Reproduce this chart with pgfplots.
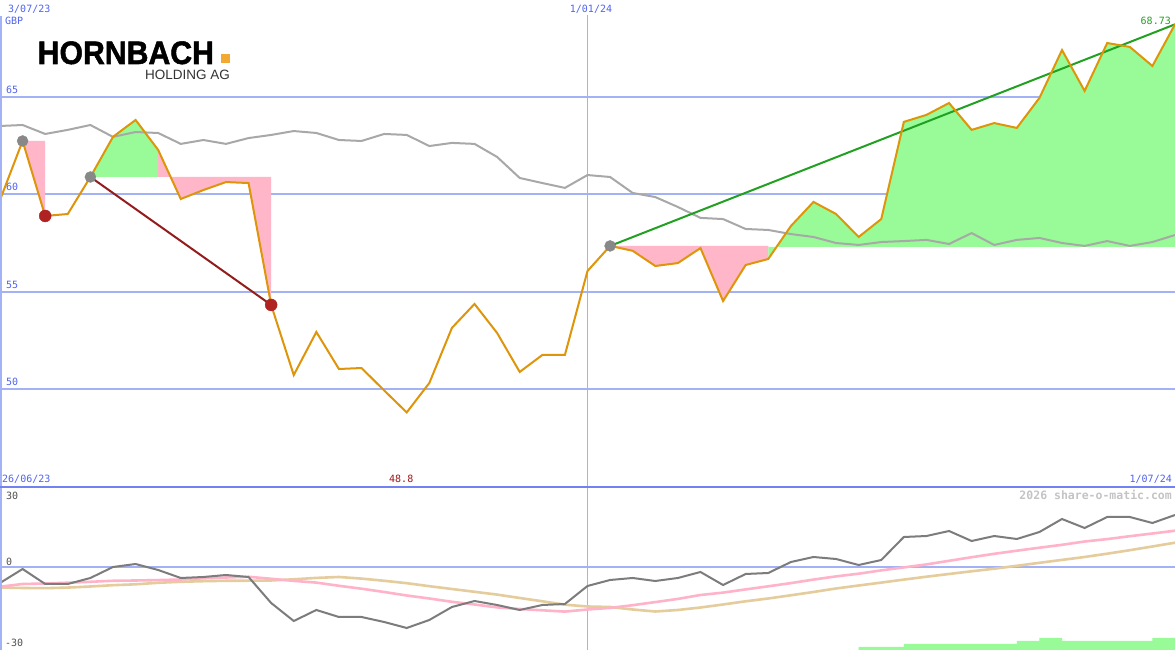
\documentclass[border=0pt]{standalone}
\usepackage{fontspec}
\usepackage{pgfplots}
\usepackage{pgfplotstable}
\pgfplotsset{compat=1.18}
\setmainfont{DejaVu Sans Mono}
\newfontfamily\labf{DejaVu Sans Mono}
\newfontfamily\logof{Liberation Sans}[BoldFeatures={FakeBold=1.6}]
\definecolor{gridc}{HTML}{A3B1F5}
\definecolor{sepc}{HTML}{7282F0}
\definecolor{labc}{HTML}{5064F0}
\definecolor{pricec}{HTML}{DE950A}
\definecolor{greyl}{HTML}{A8A8A8}
\definecolor{pinkf}{HTML}{FFB6C9}
\definecolor{greenf}{HTML}{98FB98}
\definecolor{trendr}{HTML}{951C1C}
\definecolor{trendg}{HTML}{22A022}
\definecolor{redc}{HTML}{B02222}
\definecolor{circg}{HTML}{888888}
\definecolor{momc}{HTML}{7C7C7C}
\definecolor{pinkl}{HTML}{FFB3C9}
\definecolor{tanl}{HTML}{E5CC9C}
\definecolor{logoor}{HTML}{F2A831}
\definecolor{wmc}{HTML}{C4C4C4}
\definecolor{darkr}{HTML}{A01414}
\definecolor{ticklc}{HTML}{505050}

\pgfplotstableread{
i price grey mom pink tan
0 59.71 63.51 -6.00 -7.39 -7.69
1 62.74 63.56 -0.75 -6.37 -7.87
2 58.89 63.10 -6.37 -6.19 -7.95
3 58.99 63.31 -6.37 -5.89 -7.72
4 60.89 63.56 -4.12 -5.55 -7.31
5 62.95 62.95 0.00 -5.17 -6.82
6 63.82 63.20 1.12 -5.06 -6.49
7 62.28 63.15 -1.12 -4.91 -5.92
8 59.76 62.59 -4.12 -4.69 -5.55
9 60.22 62.79 -3.75 -4.24 -5.32
10 60.63 62.59 -3.00 -3.94 -5.17
11 60.58 62.89 -3.75 -3.67 -5.14
12 54.32 63.05 -13.50 -4.42 -5.06
13 50.72 63.25 -20.25 -5.21 -4.61
14 52.93 63.15 -16.12 -5.85 -4.09
15 51.03 62.79 -18.75 -7.05 -3.75
16 51.08 62.74 -18.75 -8.14 -4.35
17 49.93 63.10 -20.62 -9.37 -5.17
18 48.80 63.05 -22.87 -10.69 -6.07
19 50.31 62.48 -19.87 -11.81 -7.20
20 53.14 62.64 -15.00 -13.05 -8.25
21 54.37 62.59 -12.75 -14.06 -9.30
22 52.88 61.92 -14.25 -15.15 -10.35
23 50.88 60.84 -16.12 -15.75 -11.62
24 51.75 60.58 -14.25 -16.24 -12.86
25 51.75 60.33 -13.87 -16.72 -14.14
26 56.06 60.99 -7.12 -15.94 -14.81
27 57.35 60.89 -4.87 -15.34 -15.00
28 57.10 60.07 -4.12 -14.32 -15.94
29 56.32 59.86 -5.25 -13.16 -16.69
30 56.47 59.35 -4.12 -11.96 -16.12
31 57.24 58.79 -1.87 -10.50 -15.19
32 54.52 58.73 -6.75 -9.60 -14.06
33 56.37 58.22 -2.62 -8.40 -12.86
34 56.68 58.17 -2.25 -7.24 -11.81
35 58.37 57.96 1.87 -6.04 -10.61
36 59.61 57.81 3.75 -4.72 -9.37
37 58.99 57.50 3.00 -3.52 -8.06
38 57.81 57.40 0.75 -2.51 -6.94
39 58.73 57.55 2.62 -1.27 -5.85
40 63.72 57.60 11.25 -0.15 -4.72
41 64.08 57.66 11.62 0.97 -3.64
42 64.69 57.45 13.50 2.32 -2.62
43 63.31 58.01 9.75 3.67 -1.61
44 63.66 57.40 11.62 4.95 -0.64
45 63.41 57.66 10.50 6.11 0.45
46 64.95 57.76 13.12 7.24 1.57
47 67.41 57.50 18.00 8.32 2.66
48 65.31 57.35 14.62 9.56 3.75
49 67.77 57.60 18.75 10.46 4.99
50 67.57 57.35 18.75 11.55 6.30
51 66.59 57.55 16.50 12.56 7.69
52 68.73 57.91 19.50 13.61 9.11
}\datatable

\begin{document}
\begin{tikzpicture}
\path[use as bounding box, fill=white] (0,0) rectangle (1175bp,650bp);

% ---------- upper panel ----------
\begin{axis}[at={(0,163bp)}, anchor=south west, scale only axis,
  width=1175bp, height=487bp, xmin=0, xmax=52, ymin=44.97, ymax=69.98,
  hide axis, clip=true, no markers]
\draw[gridc, line width=2bp] (axis cs:0,65) -- (axis cs:52,65);
\draw[gridc, line width=2bp] (axis cs:0,60) -- (axis cs:52,60);
\draw[gridc, line width=2bp] (axis cs:0,55) -- (axis cs:52,55);
\draw[gridc, line width=2bp] (axis cs:0,50) -- (axis cs:52,50);
\draw[gridc, line width=1bp] (axis cs:26,44) -- (axis cs:26,69.2);
% fills
\addplot[fill=pinkf, draw=none] coordinates {(1,62.74)(2,58.89)(2,62.74)} -- cycle;
\addplot[fill=greenf, draw=none] coordinates {(4,60.89)(5,62.95)(6,63.82)(7,62.28)(7,60.89)} -- cycle;
\addplot[fill=pinkf, draw=none] coordinates {(7,62.28)(8,59.76)(9,60.22)(10,60.63)(11,60.58)(12,54.32)(12,60.89)(7,60.89)} -- cycle;
\addplot[fill=pinkf, draw=none] coordinates {(27,57.35)(28,57.10)(29,56.32)(30,56.47)(31,57.24)(32,54.52)(33,56.37)(34,56.68)(34,57.35)} -- cycle;
\addplot[fill=greenf, draw=none] coordinates {(34,56.68)(35,58.37)(36,59.61)(37,58.99)(38,57.81)(39,58.73)(40,63.72)(41,64.08)(42,64.69)(43,63.31)(44,63.66)(45,63.41)(46,64.95)(47,67.41)(48,65.31)(49,67.77)(50,67.57)(51,66.59)(52,68.73)(52,57.30)(34,57.30)} -- cycle;
% grey line
\addplot[greyl, line width=2bp] table[x=i, y=grey] {\datatable};
% trend lines
\addplot[trendr, line width=2bp] coordinates {(4,60.89)(12,54.32)};
\addplot[trendg, line width=2bp] coordinates {(27,57.35)(52,68.73)};
% circles
\addplot[only marks, mark=*, mark size=5.5bp, draw=circg, fill=circg] coordinates {(1,62.74)(4,60.89)(27,57.35)};
\addplot[only marks, mark=*, mark size=6bp, draw=redc, fill=redc] coordinates {(2,58.89)(12,54.32)};
% price
\addplot[pricec, line width=2bp] table[x=i, y=price] {\datatable};
\end{axis}

% ---------- lower panel ----------
\begin{axis}[at={(0,0)}, anchor=south west, scale only axis,
  width=1175bp, height=163bp, xmin=0, xmax=52, ymin=-31.125, ymax=30,
  hide axis, clip=true, no markers]
\draw[gridc, line width=2bp] (axis cs:0,0) -- (axis cs:52,0);
\draw[gridc, line width=1bp] (axis cs:26,-32) -- (axis cs:26,30);
\addplot[fill=greenf, draw=none] coordinates {(38,-32)(38,-30)(40,-30)(40,-28.875)(45,-28.875)(45,-27.75)(46,-27.75)(46,-26.625)(47,-26.625)(47,-27.75)(51,-27.75)(51,-26.625)(52,-26.625)(52,-32)} -- cycle;
\addplot[tanl, line width=2.6bp] table[x=i, y=tan] {\datatable};
\addplot[pinkl, line width=2.6bp] table[x=i, y=pink] {\datatable};
\addplot[momc, line width=2bp] table[x=i, y=mom] {\datatable};
\end{axis}

% frame lines
\draw[gridc, line width=2bp] (1bp,0) -- (1bp,634bp);
\draw[sepc, line width=2.5bp] (0,163bp) -- (1175bp,163bp);

% labels
\begin{scope}[every node/.style={inner sep=0pt, font=\labf\fontsize{10bp}{12bp}\selectfont}]
\node[anchor=base west, text=labc] at (8bp,637bp) {3/07/23};
\node[anchor=base west, text=labc] at (5bp,625bp) {GBP};
\node[anchor=base west, text=labc] at (6bp,556bp) {65};
\node[anchor=base west, text=labc] at (6bp,459bp) {60};
\node[anchor=base west, text=labc] at (6bp,361bp) {55};
\node[anchor=base west, text=labc] at (6bp,264bp) {50};
\node[anchor=base, text=labc] at (591bp,637bp) {1/01/24};
\node[anchor=base east, text=trendg] at (1171bp,625bp) {68.73};
\node[anchor=base west, text=labc] at (2bp,167bp) {26/06/23};
\node[anchor=base west, text=darkr] at (389bp,167bp) {48.8};
\node[anchor=base east, text=labc] at (1172bp,167bp) {1/07/24};
\node[anchor=base west, text=ticklc] at (6bp,150.5bp) {30};
\node[anchor=base west, text=ticklc] at (6bp,84bp) {0};
\node[anchor=base west, text=ticklc] at (5bp,4bp) {-30};
\node[anchor=base east, text=wmc, font=\labf\bfseries\fontsize{11.5bp}{13bp}\selectfont] at (1172bp,150bp) {2026 share-o-matic.com};
\end{scope}

% logo
\node[anchor=base west, inner sep=0pt, xscale=0.93, font=\logof\bfseries\fontsize{32.5bp}{34bp}\selectfont] at (37.5bp,586bp) {HORNBACH};
\fill[logoor] (221bp,587bp) rectangle (230bp,596bp);
\node[anchor=base west, inner sep=0pt, text=black!80, font=\logof\fontsize{13.5bp}{15bp}\selectfont] at (145bp,570.5bp) {HOLDING AG};
\end{tikzpicture}
\end{document}
